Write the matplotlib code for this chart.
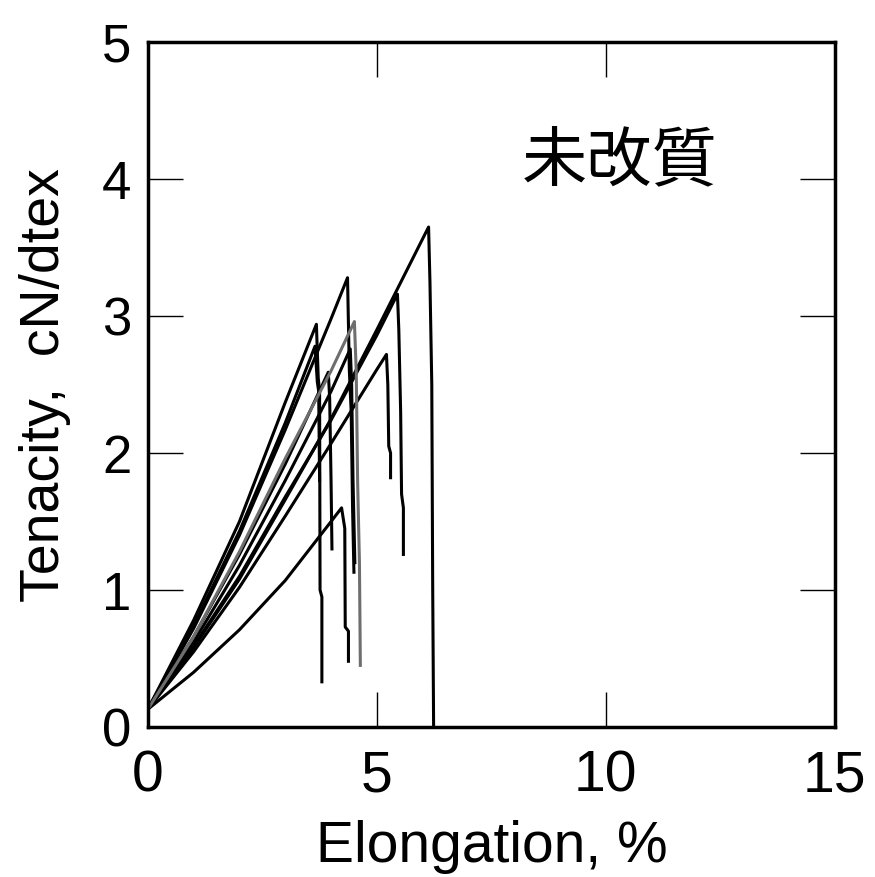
import numpy as np
import matplotlib.pyplot as plt

plt.rcParams['font.family'] = ['Liberation Sans', 'DejaVu Sans']

# stress-strain traces: (elongation %, tenacity cN/dtex)
# rising part then the break drop
curveA_x = [0, 1, 2, 3, 4, 5, 6.13, 6.16, 6.20, 6.22, 6.24]
curveA_y = [0.13, 0.58, 1.08, 1.66, 2.25, 2.90, 3.65, 3.25, 2.50, 1.02, 0.0]

curveB_x = [0, 1, 2, 3, 4, 4.36, 4.40, 4.44, 4.47, 4.50]
curveB_y = [0.13, 0.72, 1.40, 2.17, 2.98, 3.28, 2.60, 2.30, 1.60, 1.13]

curveC_x = [0, 1, 2, 3, 3.68, 3.72, 3.75, 3.76, 3.80, 3.80]
curveC_y = [0.13, 0.78, 1.50, 2.37, 2.94, 2.55, 2.45, 1.00, 0.95, 0.33]

curveD_x = [0, 1, 2, 3, 4, 4.51, 4.55, 4.58, 4.62, 4.64]
curveD_y = [0.13, 0.66, 1.28, 1.96, 2.60, 2.96, 2.60, 1.80, 1.20, 0.45]

curveE_x = [0, 1, 2, 3, 4, 5, 5.45, 5.48, 5.52, 5.54, 5.58, 5.58]
curveE_y = [0.13, 0.59, 1.10, 1.68, 2.24, 2.86, 3.16, 2.90, 2.30, 1.70, 1.60, 1.26]

curveF_x = [0, 1, 2, 3, 4, 5, 5.21, 5.24, 5.26, 5.30, 5.30]
curveF_y = [0.13, 0.55, 1.02, 1.54, 2.07, 2.61, 2.72, 2.50, 2.05, 2.00, 1.82]

curveG_x = [0, 1, 2, 3, 4, 4.23, 4.30, 4.31, 4.38, 4.38]
curveG_y = [0.13, 0.40, 0.71, 1.07, 1.50, 1.60, 1.45, 0.73, 0.70, 0.48]

curveH_x = [0, 1, 2, 3, 3.65, 3.70, 3.73, 3.75]
curveH_y = [0.13, 0.74, 1.43, 2.22, 2.78, 2.52, 2.45, 1.80]

curveI_x = [0, 1, 2, 3, 3.94, 3.97, 4.00, 4.02]
curveI_y = [0.13, 0.66, 1.26, 1.92, 2.59, 2.40, 1.80, 1.30]

curveK_x = [0, 1, 2, 3, 4, 4.42, 4.45, 4.48, 4.52]
curveK_y = [0.13, 0.62, 1.18, 1.80, 2.45, 2.76, 2.50, 1.80, 1.20]

black_curves = [(curveA_x, curveA_y), (curveB_x, curveB_y), (curveC_x, curveC_y),
                (curveE_x, curveE_y), (curveF_x, curveF_y), (curveG_x, curveG_y),
                (curveH_x, curveH_y), (curveI_x, curveI_y), (curveK_x, curveK_y)]
gray_curves = [(curveD_x, curveD_y)]

fig = plt.figure(figsize=(8.75, 8.77), dpi=100)
ax = fig.add_axes([0.169, 0.171, 0.785, 0.781])

for cx, cy in black_curves:
    ax.plot(cx, cy, color='black', lw=2.2)
for cx, cy in gray_curves:
    ax.plot(cx, cy, color='#6e6e6e', lw=2.2)

ax.set_xlim(0, 15)
ax.set_ylim(0, 5)
ax.set_xticks([0, 5, 10, 15])
ax.set_yticks([0, 1, 2, 3, 4, 5])
ax.tick_params(direction='in', length=25, width=1.0, top=True, right=True)
ax.tick_params(axis='x', labelsize=41, pad=16)
ax.tick_params(axis='y', labelsize=38, pad=12)
for s in ax.spines.values():
    s.set_linewidth(2.5)

ax.set_xlabel('Elongation, %', fontsize=41, labelpad=12)
ax.set_ylabel('Tenacity,  cN/dtex', fontsize=40, labelpad=22)

ax.text(10.3, 4.12, '未改質', fontsize=47, ha='center', va='center',
        family=['Noto Sans CJK JP', 'DejaVu Sans'])

fig.savefig('out.png', dpi=100)
